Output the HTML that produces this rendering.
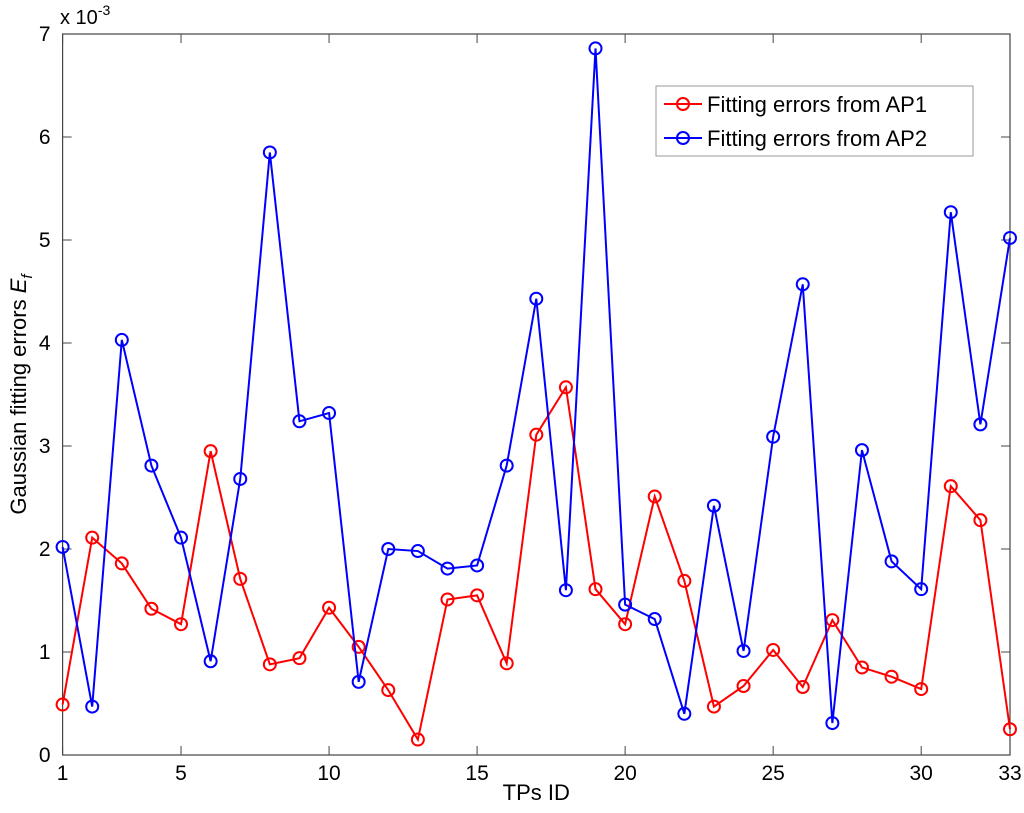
<!DOCTYPE html>
<html><head><meta charset="utf-8"><style>
html,body{margin:0;padding:0;background:#fff;}
text{font-family:"Liberation Sans",sans-serif;}
</style></head><body>
<svg id="chart" width="1024" height="808" xmlns="http://www.w3.org/2000/svg"></svg>
<script>
const ids = [1,2,3,4,5,6,7,8,9,10,11,12,13,14,15,16,17,18,19,20,21,22,23,24,25,26,27,28,29,30,31,32,33];
const ap1 = [0.49,2.11,1.86,1.42,1.27,2.95,1.71,0.88,0.94,1.43,1.05,0.63,0.15,1.51,1.55,0.89,3.11,3.57,1.61,1.27,2.51,1.69,0.47,0.67,1.02,0.66,1.31,0.85,0.76,0.64,2.61,2.28,0.25];
const ap2 = [2.02,0.47,4.03,2.81,2.11,0.91,2.68,5.85,3.24,3.32,0.71,2.00,1.98,1.81,1.84,2.81,4.43,1.60,6.86,1.46,1.32,0.40,2.42,1.01,3.09,4.57,0.31,2.96,1.88,1.61,5.27,3.21,5.02];
const xTicks = [1,5,10,15,20,25,30,33];
const yTicks = [0,1,2,3,4,5,6,7];
const L=62.6,R=1010,T=34,B=755;
const xs=v=>L+(v-1)*(R-L)/32;
const ys=v=>B-v*(B-T)/7;
const svg=document.getElementById('chart');
const NS='http://www.w3.org/2000/svg';
function mk(tag,attrs,parent){const e=document.createElementNS(NS,tag);for(const k in attrs)e.setAttribute(k,attrs[k]);(parent||svg).appendChild(e);return e;}
const frame=mk('rect',{x:L,y:T,width:R-L,height:B-T,fill:'none',stroke:'#444','stroke-width':1.2});


xTicks.forEach(t=>{
  const x=xs(t);
  const g=mk('g',{});
  
  
  mk('line',{x1:x,x2:x,y1:B,y2:B-9,stroke:'#444'},g);
  mk('line',{x1:x,x2:x,y1:T,y2:T+9,stroke:'#444'},g);
  const tx=mk('text',{x:x,y:B+25,'font-size':21,'text-anchor':'middle'},g);tx.textContent=t;
});
yTicks.forEach(t=>{
  const y=ys(t);
  const g=mk('g',{});
  
  
  mk('line',{x1:L,x2:L+9,y1:y,y2:y,stroke:'#444'},g);
  mk('line',{x1:R,x2:R-9,y1:y,y2:y,stroke:'#444'},g);
  const tx=mk('text',{x:L-12,y:y+7,'font-size':21,'text-anchor':'end'},g);tx.textContent=t;
});
const exp=mk('text',{x:60,y:24,'font-size':20});


exp.innerHTML='x 10<tspan dy="-9" font-size="14">-3</tspan>';
const xt=mk('text',{x:(L+R)/2,y:800,'font-size':22,'text-anchor':'middle'});


xt.textContent='TPs ID';
const yt=mk('text',{x:0,y:0,'font-size':22,'text-anchor':'middle',transform:'translate(26,'+((T+B)/2)+') rotate(-90)'});


yt.innerHTML='Gaussian fitting errors <tspan font-style="italic">E</tspan><tspan font-style="italic" font-size="15" dy="6">f</tspan>';
function series(data,color,name){
  const g=mk('g',{});
  
  
  const pl=mk('polyline',{points:data.map((v,i)=>xs(ids[i])+','+ys(v)).join(' '),fill:'none',stroke:color,'stroke-width':2},g);
  
  
  data.forEach((v,i)=>{
    const c=mk('circle',{cx:xs(ids[i]),cy:ys(v),r:6,fill:'none',stroke:color,'stroke-width':2},g);
    
    
  });
}
series(ap1,'#ff0000','ap1-series');
series(ap2,'#0000ff','ap2-series');
const lg=mk('g',{});


mk('rect',{x:656,y:86,width:317,height:70,fill:'#fff',stroke:'#999'},lg);
[['#ff0000','Fitting errors from AP1',104],['#0000ff','Fitting errors from AP2',138]].forEach(([c,t,y],k)=>{
  const e=mk('g',{},lg);
  
  
  mk('line',{x1:664,x2:702,y1:y,y2:y,stroke:c,'stroke-width':2},e);
  mk('circle',{cx:683,cy:y,r:6,fill:'none',stroke:c,'stroke-width':2},e);
  const tx=mk('text',{x:707,y:y+8,'font-size':22},e);tx.textContent=t;
});
</script>
</body></html>
